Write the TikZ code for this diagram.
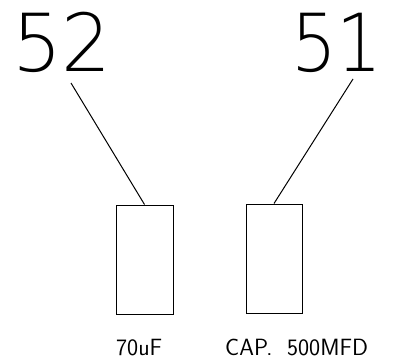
\documentclass[tikz,border=0pt]{standalone}
\usepackage{fontspec}
\newfontfamily\thinfont{DejaVuSans-ExtraLight.ttf}
\begin{document}
\begin{tikzpicture}[x=1pt,y=-1pt,
  capbox/.style={draw,line width=1pt,inner sep=0pt,minimum width=57pt,minimum height=109pt},
  bignum/.style={font=\thinfont\fontsize{80}{80}\selectfont,inner sep=0pt,anchor=base,transform shape},
  caplabel/.style={font=\sffamily\fontsize{23.5}{23.5}\selectfont,inner sep=0pt,anchor=base west},
  leader/.style={line width=1pt}]
\useasboundingbox (0,0) rectangle (404,361);
\node[bignum,xscale=0.98] (n52) at (62,71) {52};
\node[bignum,xscale=0.9] (n51) at (337,71) {51};
\node[capbox] (c1) at (144.5,259.5) {};
\node[capbox,minimum width=56pt] (c2) at (274,258.5) {};
\coordinate (l52) at (71,83);
\coordinate (l51) at (353,79);
\draw[leader] (l52) -- (c1.north);
\draw[leader] (l51) -- (c2.north);
\node[caplabel] (t1) at (116,355) {70uF};
\node[caplabel] (t2) at (225,355) {CAP.\ \ 500MFD};
\end{tikzpicture}
\end{document}
